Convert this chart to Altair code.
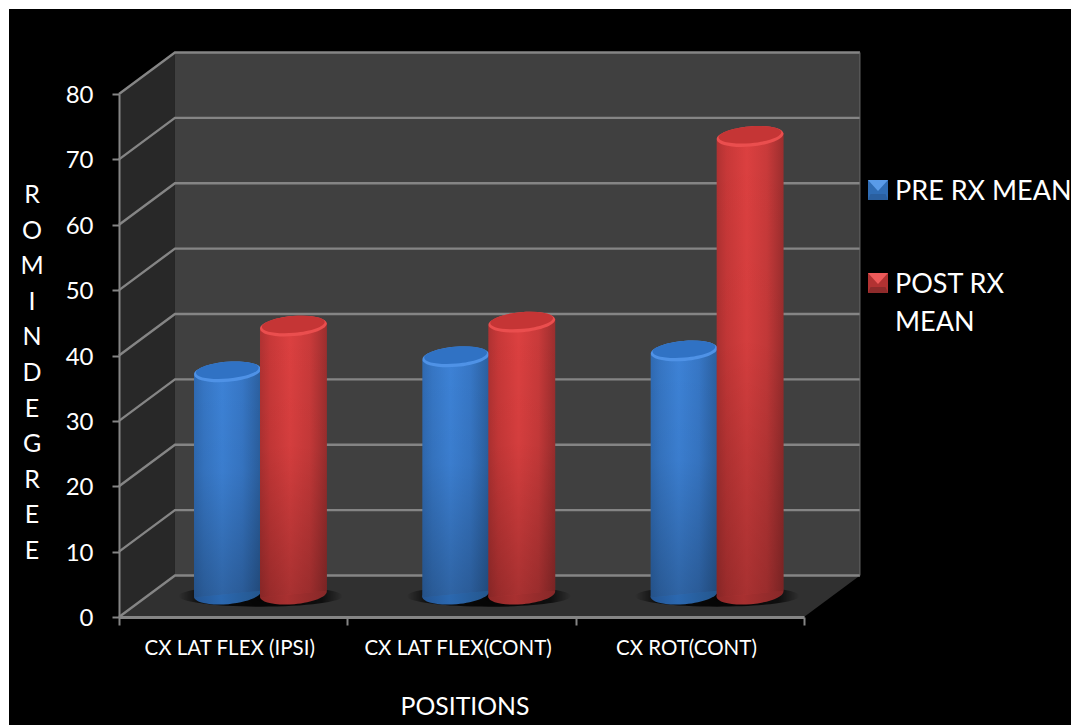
import altair as alt
import pandas as pd

# Chart values
categories = ["CX LAT FLEX (IPSI)", "CX LAT FLEX(CONT)", "CX ROT(CONT)"]
pre_rx = [34, 36.3, 37.2]
post_rx = [41, 41.6, 70]
y_ticks = [0, 10, 20, 30, 40, 50, 60, 70, 80]
legend_names = ["PRE RX MEAN", ["POST RX", "MEAN"]]
y_title = ["R", "O", "M", "I", "N", "D", "E", "G", "R", "E", "E"]

FONT = "Lato"
WIDTH, HEIGHT = 1062, 716
PAD = 9

# Oblique projection: how far the back wall is shifted, in axis units
DEPTH_X = 0.245
DEPTH_Y = 6.35
BAR_BASE = 3.5   # floor depth at which the cylinders stand
BAR_W = 0.293    # cylinder diameter in category units
TILT = 0.5       # rise of the cylinder rim from its axis, in value units
OFFSETS = {"pre": 0.475, "post": 0.764}
GRID = "#858585"

x_scale = alt.Scale(domain=[0, 3], range=[110, 795], nice=False, zero=False)
y_scale = alt.Scale(domain=[0, 80], range=[608, 85], nice=False, zero=False)

# Every layer carries the same axis definition so that they merge into one
x_axis = alt.Axis(values=[0, 1, 2, 3], labels=False, grid=False, orient="bottom",
                  offset=-108, domainColor=GRID, domainWidth=3, tickColor=GRID,
                  tickWidth=2, tickSize=8, zindex=1)
y_axis = alt.Axis(values=y_ticks, grid=False, orient="left", offset=-110,
                  domainColor=GRID, domainWidth=2, tickColor=GRID, tickWidth=2,
                  tickSize=7, labelColor="white", labelFont=FONT, labelFontSize=24,
                  labelPadding=19, labelOffset=1.5, zindex=1)

X = lambda f: alt.X(f, type="quantitative", scale=x_scale, title=None, axis=x_axis)
Y = lambda f: alt.Y(f, type="quantitative", scale=y_scale, title=None, axis=y_axis)
Y2 = lambda f: alt.Y2(f)


def h_grad(stops):
    return {"gradient": "linear", "x1": 0, "x2": 1, "y1": 0, "y2": 0,
            "stops": [{"offset": o, "color": c} for o, c in stops]}


def v_grad(stops):
    return {"gradient": "linear", "x1": 0, "x2": 0, "y1": 0, "y2": 1,
            "stops": [{"offset": o, "color": c} for o, c in stops]}


# Room walls and floor
walls = pd.DataFrame({"x": [0, DEPTH_X], "lo": [0, DEPTH_Y], "hi": [80, 80 + DEPTH_Y]})
side_wall = alt.Chart(walls).mark_area(fill="#282828").encode(
    x=X("x"), y=Y("hi"), y2=Y2("lo"))

back = pd.DataFrame({"x": [DEPTH_X, 3 + DEPTH_X], "lo": [DEPTH_Y] * 2, "hi": [80 + DEPTH_Y] * 2})
back_wall = alt.Chart(back).mark_area(fill="#404040").encode(
    x=X("x"), y=Y("hi"), y2=Y2("lo"))

floor_df = pd.DataFrame({"y": [0, DEPTH_Y], "a": [0, DEPTH_X], "b": [3, 3 + DEPTH_X]})
floor = alt.Chart(floor_df).mark_area(fill="#303030", orient="horizontal").encode(
    y=Y("y"), x=X("a"), x2=alt.X2("b"))

# Grid lines run along the side wall, then across the back wall
grid_rows = []
for v in y_ticks:
    for i, (gx, gy) in enumerate([(0, v), (DEPTH_X, v + DEPTH_Y), (3 + DEPTH_X, v + DEPTH_Y)]):
        grid_rows.append({"v": v, "i": i, "x": gx, "y": gy})
grid = alt.Chart(pd.DataFrame(grid_rows)).mark_line(stroke=GRID, strokeWidth=2.4).encode(
    x=X("x"), y=Y("y"), detail="v:N", order="i:Q")

wall_edge = alt.Chart(pd.DataFrame({"x": [3 + DEPTH_X] * 2, "y": [DEPTH_Y, 80 + DEPTH_Y]})).mark_line(
    stroke="#6a6a6a", strokeWidth=1).encode(x=X("x"), y=Y("y"))

# Contact shadows on the floor
shadow_df = pd.DataFrame({"x": [i + 0.62 for i in range(len(categories))], "y": [3.2] * 3})
shadow = alt.Chart(shadow_df).mark_point(
    shape="M-1,0A1,0.13,0,1,1,1,0A1,0.13,0,1,1,-1,0Z",
    size=27000, opacity=1, filled=True,
    fill={"gradient": "radial", "x1": 0.5, "y1": 0.5, "r1": 0, "x2": 0.5, "y2": 0.5, "r2": 0.5,
          "stops": [{"offset": 0, "color": "rgba(0,0,0,0.9)"},
                    {"offset": 0.75, "color": "rgba(0,0,0,0.7)"},
                    {"offset": 1, "color": "rgba(0,0,0,0)"}]},
).encode(x=X("x"), y=Y("y"))


def cylinder_layers(values, key, body, shade, bottom, rim, cap):
    rows, centres = [], []
    for i, value in enumerate(values):
        cx = i + OFFSETS[key]
        centres.append({"id": i, "x": cx, "top": value + BAR_BASE, "base": BAR_BASE})
        rows.append({"id": i, "x": cx - BAR_W / 2, "top": value + BAR_BASE - TILT, "base": BAR_BASE - TILT})
        rows.append({"id": i, "x": cx + BAR_W / 2, "top": value + BAR_BASE + TILT, "base": BAR_BASE + TILT})
    df, cdf = pd.DataFrame(rows), pd.DataFrame(centres)
    ellipse = "M-1,0A1,0.3,0,1,1,1,0A1,0.3,0,1,1,-1,0Z"
    inner = "M-0.94,-0.05A0.94,0.25,0,1,1,0.94,-0.05A0.94,0.25,0,1,1,-0.94,-0.05Z"
    dia = 2 * 33.5
    foot = alt.Chart(cdf).mark_point(shape=ellipse, size=dia ** 2, angle=355, filled=True,
                                     opacity=1, fill=h_grad(bottom)).encode(x=X("x"), y=Y("base"))
    shaft = alt.Chart(df).mark_area(fill=h_grad(body)).encode(
        x=X("x"), y=Y("top"), y2=Y2("base"), detail="id:N")
    fade = alt.Chart(df).mark_area(fill=v_grad(shade)).encode(
        x=X("x"), y=Y("top"), y2=Y2("base"), detail="id:N")
    rim_mark = alt.Chart(cdf).mark_point(shape=ellipse, size=dia ** 2, angle=355, filled=True,
                                         opacity=1, fill=rim).encode(x=X("x"), y=Y("top"))
    cap_mark = alt.Chart(cdf).mark_point(shape=inner, size=dia ** 2, angle=355, filled=True,
                                         opacity=1, fill=cap).encode(x=X("x"), y=Y("top"))
    return [foot, shaft, fade, rim_mark, cap_mark]


shade_stops = [(0, "rgba(0,0,0,0)"), (0.45, "rgba(0,0,0,0.04)"), (1, "rgba(0,0,0,0.24)")]
blue = cylinder_layers(
    pre_rx, "pre",
    body=[(0, "#2f6ab2"), (0.15, "#3676c4"), (0.42, "#3d82d6"), (0.72, "#3777c6"), (1, "#2b5f9e")],
    shade=shade_stops,
    bottom=[(0, "#245694"), (0.4, "#2b68b0"), (1, "#24568c")],
    rim="#4f92e6", cap="#3072c4")
red = cylinder_layers(
    post_rx, "post",
    body=[(0, "#b03232"), (0.15, "#c83838"), (0.45, "#dc4040"), (0.75, "#c93a3a"), (1, "#9c2e2e")],
    shade=shade_stops,
    bottom=[(0, "#8f2828"), (0.4, "#a83030"), (1, "#862828")],
    rim="#ea4e4e", cap="#c53535")

# Category labels under the axis
cat_df = pd.DataFrame({"x": [i + 0.485 for i in range(len(categories))], "t": categories})
cat_labels = alt.Chart(cat_df).mark_text(font=FONT, fontSize=20.5, color="white").encode(
    x=X("x"), y=alt.value(640), text="t:N")

x_title = alt.Chart(pd.DataFrame({"t": ["POSITIONS"]})).mark_text(
    font=FONT, fontSize=24.8, color="white").encode(
    x=alt.value(456), y=alt.value(699), text="t:N")

y_title_mark = alt.Chart(pd.DataFrame({"k": [0]})).mark_text(
    font=FONT, fontSize=25, color="white", text=y_title, lineHeight=35.6, baseline="top", align="center"
).encode(x=alt.value(23), y=alt.value(174))

# Legend
legend_layers = []
swatches = [("#2f6cb4", "#5a9be8", "#2a5f9f", 181), ("#b23232", "#ee5a5a", "#8e2b2b", 274)]
for name, (base, light, dark, sy) in zip(legend_names, swatches):
    one = pd.DataFrame({"k": [0]})
    legend_layers.append(alt.Chart(one).mark_point(
        shape="M-1,-1L1,-1L1,1L-1,1Z", size=400, filled=True, opacity=1, fill=base).encode(
        x=alt.value(869), y=alt.value(sy)))
    legend_layers.append(alt.Chart(one).mark_point(
        shape="M-1,1L1,1L0.75,0.4L-0.75,0.4Z", size=400, filled=True, opacity=1, fill=dark).encode(
        x=alt.value(869), y=alt.value(sy)))
    legend_layers.append(alt.Chart(one).mark_point(
        shape="M-1,-1L1,-1L0,0.1Z", size=400, filled=True, opacity=1, fill=light).encode(
        x=alt.value(869), y=alt.value(sy)))
    legend_layers.append(alt.Chart(one).mark_text(
        font=FONT, fontSize=27, color="white", text=name, lineHeight=38, align="left", baseline="middle"
    ).encode(x=alt.value(886), y=alt.value(sy + 1.5)))

chart = alt.layer(
    side_wall, back_wall, floor, grid, wall_edge, shadow,
    *blue, *red, cat_labels, x_title, y_title_mark, *legend_layers,
).properties(
    width=WIDTH, height=HEIGHT,
    padding={"left": PAD, "top": PAD, "right": 0, "bottom": 0},
    background="white",
    autosize=alt.AutoSizeParams(type="none"),
).configure_view(fill="black", stroke=None)

chart.save("out.html", embed_options={"renderer": "svg", "actions": False})
